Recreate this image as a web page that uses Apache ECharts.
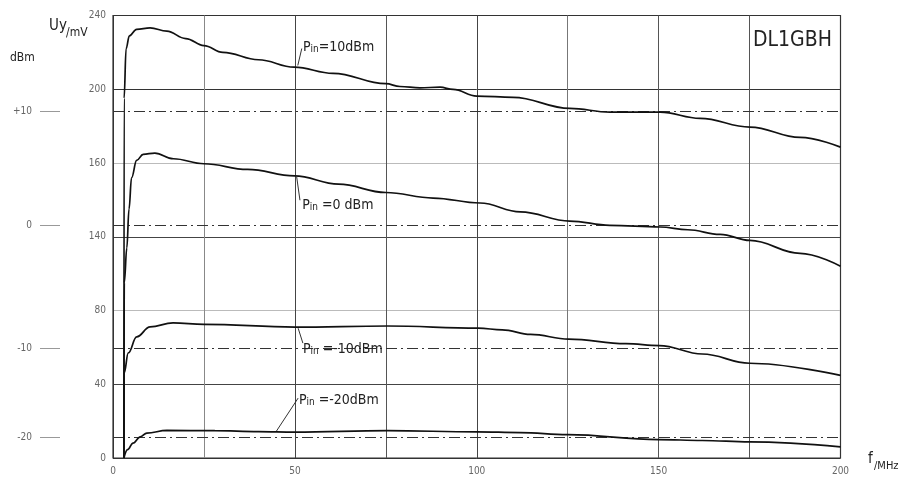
<!DOCTYPE html>
<html><head><meta charset="utf-8">
<script src="https://cdn.jsdelivr.net/npm/echarts@6/dist/echarts.min.js"></script>
<style>html,body{margin:0;padding:0;background:#fff}#c{width:916px;height:480px}</style>
</head><body><div id="c"></div>
<script>
// ---- data ----
const curveNames = ['Pin=10dBm', 'Pin=0dBm', 'Pin=-10dBm', 'Pin=-20dBm'];

const freq10 = [3, 3.05, 3.6, 4.5, 6.5, 10.2, 14.8, 20, 25, 30.2, 40, 49.8, 60.5, 75, 78.9, 84.4, 89.9, 93.5, 100, 110, 125.6, 136.6, 150.4, 161.4, 175.1, 188.9, 200];
const volt10 = [0, 195, 222, 229, 232.5, 233.3, 231.5, 227.5, 223.7, 220, 216, 212, 208.6, 203, 201.5, 200.8, 201.1, 199.9, 196.3, 195.6, 189.6, 187.6, 187.6, 184.2, 179.5, 173.9, 168.6];

const freq0 = [3, 3.1, 3.8, 4.4, 5.1, 6.5, 8.3, 11.5, 16.6, 25, 37, 49.9, 62, 75, 88, 100.9, 112, 125.6, 136.6, 150.4, 158, 166.9, 175.1, 188.9, 200];
const volt0 = [0, 95, 114, 135, 152, 161.4, 164.7, 165.4, 162.3, 159.6, 156.5, 153, 148.5, 144, 141, 138.3, 133.5, 128.5, 126.2, 125.3, 123.8, 121.3, 118, 111, 104];

const freqM10 = [3, 3.05, 4.2, 6.5, 10.2, 16.5, 25, 50, 75.5, 100.4, 107, 114.8, 125.3, 141, 150.2, 162, 175, 200];
const voltM10 = [0, 46, 57, 65.7, 71.1, 73.3, 72.5, 71, 71.6, 70.4, 69.5, 67, 64.5, 62, 61, 56.4, 51.4, 44.8];

const freqM20 = [3, 4, 5.5, 7.5, 9.3, 14.8, 28, 40, 50, 75.5, 100, 112, 125, 150, 162, 175, 200];
const voltM20 = [0, 4.5, 8.1, 11.5, 13.5, 15, 14.8, 14.3, 14, 14.8, 14.2, 13.8, 12.7, 10, 9.5, 8.7, 6];

const dbmLabels = ['+10', '0', '-10', '-20'];
const dbmLevelsMv = [188.1, 126.2, 59.5, 11];

const xTickLabels = ['0', '', '50', '', '100', '', '150', '', '200'];
const yTickLabels = ['0', '40', '80', '140', '160', '200', '240'];

const curveLabelTexts = ['=10dBm', ' =0 dBm', ' =-10dBm', ' =-20dBm'];
const labelAnchors = [[52.2, 222.6], [52, 137], [52.2, 58.8], [51.1, 31.1]];
const leaderLines = [
  [[50.8, 212.9], [51.9, 222.1]],
  [[50.5, 152.4], [51.4, 139.8]],
  [[50.9, 70.4], [52.2, 62.3]],
  [[44.8, 14.2], [50.9, 32.5]]
];

// ---- chart ----
const NARROW = "'DejaVu Sans Condensed','Liberation Sans Narrow','DejaVu Sans',sans-serif";
const zip = (a, b) => a.map((v, i) => [v, b[i]]);
const curveData = [zip(freq10, volt10), zip(freq0, volt0), zip(freqM10, voltM10), zip(freqM20, voltM20)];

const chart = echarts.init(document.getElementById('c'), null, { renderer: 'canvas' });

const series = curveData.map((d, i) => {
  const ml = [[{ coord: leaderLines[i][0] }, { coord: leaderLines[i][1] }]];
  if (i === 0) {
    dbmLevelsMv.forEach(v => ml.push({ yAxis: v, lineStyle: { type: [11, 4, 2, 4], color: '#333', width: 1 } }));
  }
  return {
    name: curveNames[i],
    type: 'line',
    data: d,
    showSymbol: false,
    symbol: 'none',
    smooth: 0.4,
    smoothMonotone: 'x',
    lineStyle: { color: '#111', width: 1.7 },
    z: 5,
    markLine: {
      silent: true,
      symbol: ['none', 'none'],
      label: { show: false },
      lineStyle: { type: 'solid', color: '#333', width: 1 },
      data: ml
    },
    markPoint: {
      silent: true,
      symbol: 'circle',
      symbolSize: 0,
      data: [{ coord: labelAnchors[i] }],
      label: {
        show: true,
        position: 'right',
        distance: 0,
        formatter: '{p|P}{s|in}{t|' + curveLabelTexts[i] + '}',
        rich: {
          p: { fontSize: 14, fontFamily: NARROW, color: '#222' },
          s: { fontSize: 10, fontFamily: NARROW, color: '#222', padding: [4, 0, 0, 0] },
          t: { fontSize: 14, fontFamily: NARROW, color: '#222' }
        }
      }
    }
  };
});

chart.setOption({
  animation: false,
  backgroundColor: '#fff',
  grid: { left: 113, right: 75.5, top: 15.5, bottom: 22, show: true, borderColor: '#333', borderWidth: 1.2, backgroundColor: 'transparent' },
  xAxis: {
    type: 'value', min: 0, max: 200, interval: 25,
    axisLine: { show: false }, axisTick: { show: false },
    axisLabel: {
      margin: 8, fontSize: 10, color: '#666', fontFamily: NARROW,
      formatter: v => xTickLabels[Math.round(v / 25)] || ''
    },
    splitLine: { show: true, lineStyle: { color: ['#333', '#888', '#444', '#555', '#444', '#777', '#555', '#555', '#333'], width: 1 } }
  },
  yAxis: [
    {
      type: 'value', min: 0, max: 240, interval: 40,
      axisLine: { show: false }, axisTick: { show: false },
      axisLabel: {
        margin: 7, fontSize: 10, color: '#666', fontFamily: NARROW,
        formatter: v => yTickLabels[Math.round(v / 40)] || ''
      },
      splitLine: { show: true, lineStyle: { color: ['#333', '#444', '#bbb', '#444', '#bbb', '#333', '#333'], width: 1 } }
    },
    {
      type: 'value', min: 0, max: 240, position: 'left', offset: 53,
      axisLine: { show: false },
      splitLine: { show: false },
      axisTick: { show: true, length: 20, customValues: dbmLevelsMv, lineStyle: { color: '#999', width: 1 } },
      axisLabel: {
        show: true, margin: 28, fontSize: 10, color: '#666', fontFamily: NARROW,
        customValues: dbmLevelsMv,
        formatter: v => {
          const i = dbmLevelsMv.indexOf(v);
          return i >= 0 ? dbmLabels[i] : '';
        }
      }
    }
  ],
  graphic: [
    { type: 'text', left: 49, top: 19, style: { text: 'Uy', fontSize: 15, fontFamily: NARROW, fill: '#222' } },
    { type: 'text', left: 66, top: 27, style: { text: '/mV', fontSize: 12, fontFamily: NARROW, fill: '#222' } },
    { type: 'text', left: 10, top: 52, style: { text: 'dBm', fontSize: 12, fontFamily: NARROW, fill: '#222' } },
    { type: 'text', left: 868, top: 452, style: { text: 'f', fontSize: 15, fontFamily: NARROW, fill: '#222' } },
    { type: 'text', left: 874, top: 461, style: { text: '/MHz', fontSize: 11, fontFamily: NARROW, fill: '#222' } },
    { type: 'text', left: 753, top: 30, style: { text: 'DL1GBH', fontSize: 21, fontFamily: NARROW, fill: '#222' } }
  ],
  series: series
});
</script></body></html>
